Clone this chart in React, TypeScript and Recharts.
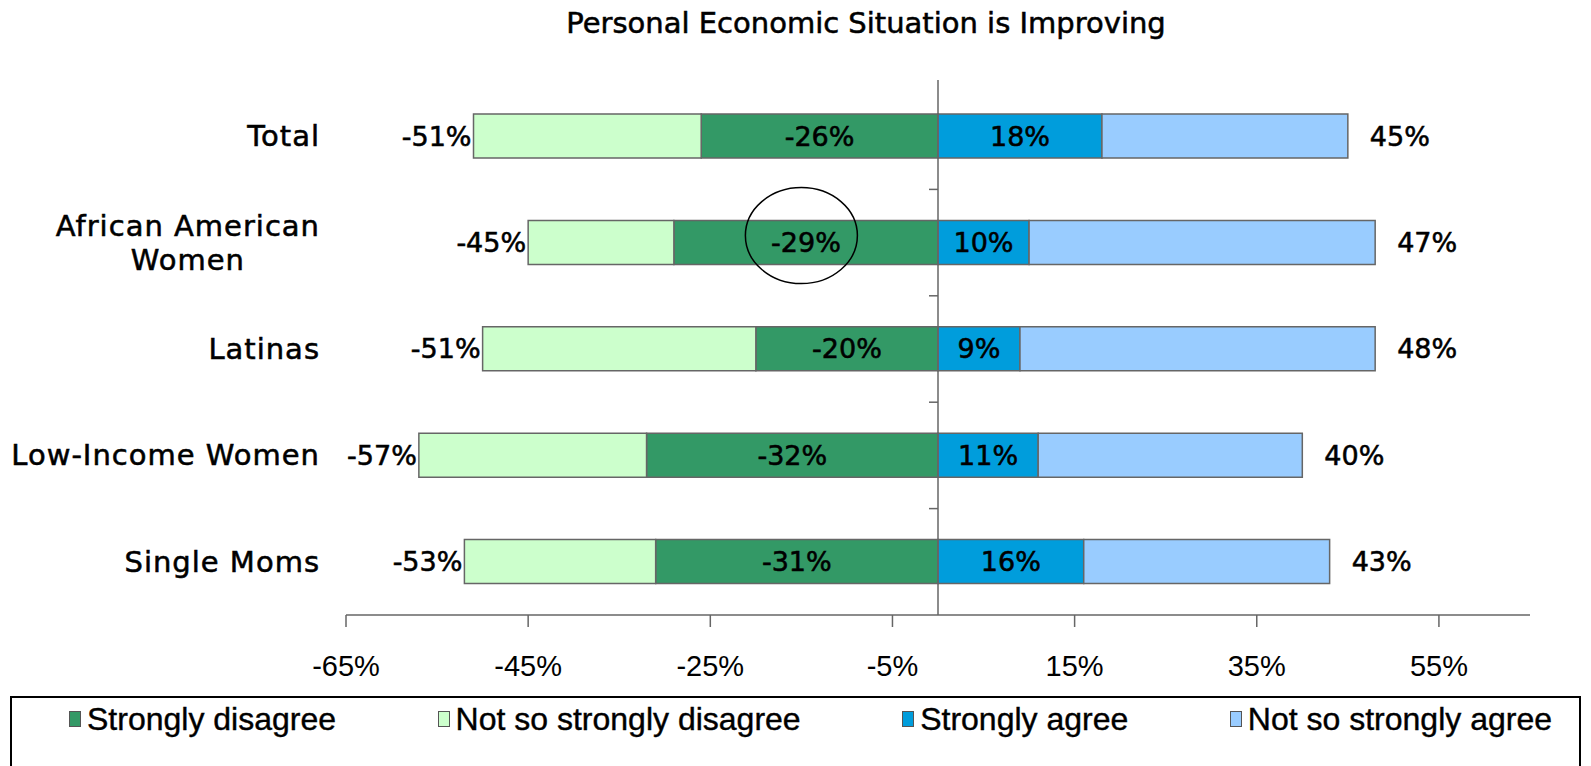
import React from 'react';
import { BarChart, Bar, XAxis, YAxis, ReferenceLine, ReferenceDot, LabelList, Legend } from 'recharts';

const title = 'Personal Economic Situation is Improving';
const categories = ['Total', 'African American Women', 'Latinas', 'Low-Income Women', 'Single Moms'];
const stronglyDisagree = [-26, -29, -20, -32, -31];
const notSoStronglyDisagree = [-25, -16, -30, -25, -21];
const stronglyAgree = [18, 10, 9, 11, 16];
const notSoStronglyAgree = [27, 38, 39, 29, 27];
const disagreeTotalLabels = ['-51%', '-45%', '-51%', '-57%', '-53%'];
const agreeTotalLabels = ['45%', '47%', '48%', '40%', '43%'];
const xTicks = [-65, -45, -25, -5, 15, 35, 55];
const seriesNames = ['Strongly disagree', 'Not so strongly disagree', 'Strongly agree', 'Not so strongly agree'];
const seriesColors = ['#339966', '#CCFFCC', '#009DDC', '#99CCFF'];
const highlightedCategory = 'African American Women';
const highlightedValue = -15;

const data = categories.map((name, i) => ({
  name,
  sd: stronglyDisagree[i],
  nsd: notSoStronglyDisagree[i],
  sa: stronglyAgree[i],
  nsa: notSoStronglyAgree[i],
  dLabel: disagreeTotalLabels[i],
  aLabel: agreeTotalLabels[i],
}));

const TEXT_FONT = 'DejaVu Sans';
const CAT_SIZE = 29;
const CAT_SPACING = 1;
const HEAVY = { stroke: '#000', strokeWidth: 0.55 };

let ctx: CanvasRenderingContext2D | null = null;
const measure = (text: string, font: string) => {
  if (!ctx) ctx = document.createElement('canvas').getContext('2d');
  if (!ctx) return text.length * 16;
  ctx.font = font;
  return ctx.measureText(text).width + text.length * CAT_SPACING;
};

const wrapLabel = (s: string): string[] => {
  if (s.length <= 18) return [s];
  const idx = s.lastIndexOf(' ');
  return [s.slice(0, idx), s.slice(idx + 1)];
};

const CategoryTick = (props: any) => {
  const { x, y, payload } = props;
  const lines = wrapLabel(String(payload.value));
  const right = x - 26;
  if (lines.length === 1) {
    return (
      <text x={right} y={y} textAnchor="end" dominantBaseline="central" fontFamily={TEXT_FONT} fontSize={CAT_SIZE} letterSpacing={CAT_SPACING} fill="#000" {...HEAVY}>
        {lines[0]}
      </text>
    );
  }
  const maxW = Math.max(...lines.map((l) => measure(l, `${CAT_SIZE}px "${TEXT_FONT}"`)));
  const cx = right - maxW / 2;
  const lh = 34;
  const startY = y - ((lines.length - 1) * lh) / 2;
  return (
    <g>
      {lines.map((l, i) => (
        <text key={i} x={cx} y={startY + i * lh} textAnchor="middle" dominantBaseline="central" fontFamily={TEXT_FONT} fontSize={CAT_SIZE} letterSpacing={CAT_SPACING} fill="#000" {...HEAVY}>
          {l}
        </text>
      ))}
    </g>
  );
};

const CenterLabel = (props: any) => {
  const { x, y, width, height, value } = props;
  return (
    <text x={x + width / 2} y={y + height / 2} textAnchor="middle" dominantBaseline="central" fontFamily={TEXT_FONT} fontSize={27} fill="#000" {...HEAVY}>
      {`${value}%`}
    </text>
  );
};

const LeftEndLabel = (props: any) => {
  const { x, y, width, height, value } = props;
  const end = Math.min(x, x + width);
  return (
    <text x={end - 2} y={y + height / 2} textAnchor="end" dominantBaseline="central" fontFamily={TEXT_FONT} fontSize={27} fill="#000" {...HEAVY}>
      {value}
    </text>
  );
};

const RightEndLabel = (props: any) => {
  const { x, y, width, height, value } = props;
  const end = Math.max(x, x + width);
  return (
    <text x={end + 22} y={y + height / 2} textAnchor="start" dominantBaseline="central" fontFamily={TEXT_FONT} fontSize={27} fill="#000" {...HEAVY}>
      {value}
    </text>
  );
};

const ZeroLine = (props: any) => {
  const { x1, y1, x2, y2 } = props;
  const top = Math.min(y1, y2);
  const bottom = Math.max(y1, y2);
  const n = categories.length;
  const step = (bottom - top) / n;
  return (
    <g>
      <line x1={x1} y1={top - 3} x2={x2} y2={bottom} stroke="#666" strokeWidth={1.5} />
      {Array.from({ length: n - 1 }, (_, i) => (
        <line key={i} x1={x1 - 9} x2={x1} y1={top + step * (i + 1)} y2={top + step * (i + 1)} stroke="#666" strokeWidth={1.5} />
      ))}
    </g>
  );
};

const HighlightEllipse = (props: any) => {
  const { cx, cy } = props;
  return <ellipse cx={cx} cy={cy - 7} rx={56} ry={48} fill="none" stroke="#000" strokeWidth={1.5} />;
};

const renderLegend = (props: any) => {
  const payload = [...(props.payload || [])].sort(
    (a: any, b: any) => seriesNames.indexOf(a.value) - seriesNames.indexOf(b.value)
  );
  return (
    <div
      style={{
        boxSizing: 'border-box',
        width: 1571,
        height: 90,
        border: '2px solid #000',
        display: 'flex',
        justifyContent: 'space-between',
        alignItems: 'flex-start',
        padding: '5px 27px 0 57px',
        background: '#fff',
      }}
    >
      {payload.map((entry: any, i: number) => (
        <div key={i} style={{ display: 'flex', alignItems: 'center' }}>
          <span
            style={{
              display: 'inline-block',
              boxSizing: 'border-box',
              width: 12,
              height: 16,
              background: entry.color,
              border: '1.5px solid #555',
              marginRight: 6,
            }}
          />
          <span
            style={{
              fontFamily: 'Liberation Sans',
              fontSize: 32,
              lineHeight: '32px',
              color: '#000',
              whiteSpace: 'nowrap',
              WebkitTextStroke: '0.4px #000',
            }}
          >
            {entry.value}
          </span>
        </div>
      ))}
    </div>
  );
};

export default function App() {
  return (
    <div style={{ position: 'absolute', left: 0, top: 0, width: 1591, height: 766, overflow: 'hidden', background: '#fff' }}>
      <div
        style={{
          position: 'absolute',
          left: 266,
          top: 6,
          width: 1200,
          textAlign: 'center',
          fontFamily: TEXT_FONT,
          fontSize: 29,
          lineHeight: '34px',
          color: '#000',
          WebkitTextStroke: '0.55px #000',
        }}
      >
        {title}
      </div>
      <BarChart
        width={1591}
        height={766}
        data={data}
        layout="vertical"
        stackOffset="sign"
        barSize={44}
        margin={{ top: 83, right: 61, bottom: 91, left: 0 }}
      >
        <XAxis
          type="number"
          domain={[-65, 65]}
          ticks={xTicks}
          tickFormatter={(v: number) => `${v}%`}
          axisLine={{ stroke: '#666', strokeWidth: 1.5 }}
          tickLine={{ stroke: '#666', strokeWidth: 1.5 }}
          tickSize={12}
          tickMargin={28}
          height={60}
          interval={0}
          tick={{ fontFamily: 'Liberation Sans', fontSize: 29, fill: '#000' }}
        />
        <YAxis
          type="category"
          dataKey="name"
          width={346}
          axisLine={false}
          tickLine={false}
          tickSize={0}
          tickMargin={0}
          interval={0}
          tick={<CategoryTick />}
        />
        <Bar dataKey="sd" name={seriesNames[0]} stackId="s" fill={seriesColors[0]} stroke="#666" strokeWidth={1.5} isAnimationActive={false} legendType="square">
          <LabelList dataKey="sd" content={<CenterLabel />} />
        </Bar>
        <Bar dataKey="nsd" name={seriesNames[1]} stackId="s" fill={seriesColors[1]} stroke="#666" strokeWidth={1.5} isAnimationActive={false} legendType="square">
          <LabelList dataKey="dLabel" content={<LeftEndLabel />} />
        </Bar>
        <Bar dataKey="sa" name={seriesNames[2]} stackId="s" fill={seriesColors[2]} stroke="#666" strokeWidth={1.5} isAnimationActive={false} legendType="square">
          <LabelList dataKey="sa" content={<CenterLabel />} />
        </Bar>
        <Bar dataKey="nsa" name={seriesNames[3]} stackId="s" fill={seriesColors[3]} stroke="#666" strokeWidth={1.5} isAnimationActive={false} legendType="square">
          <LabelList dataKey="aLabel" content={<RightEndLabel />} />
        </Bar>
        <ReferenceLine x={0} shape={<ZeroLine />} ifOverflow="visible" />
        <ReferenceDot x={highlightedValue} y={highlightedCategory} r={2} shape={<HighlightEllipse />} ifOverflow="visible" />
        <Legend
          layout="horizontal"
          verticalAlign="middle"
          align="center"
          content={renderLegend}
          wrapperStyle={{ position: 'absolute', left: 10, top: 696, width: 1571 }}
        />
      </BarChart>
    </div>
  );
}
